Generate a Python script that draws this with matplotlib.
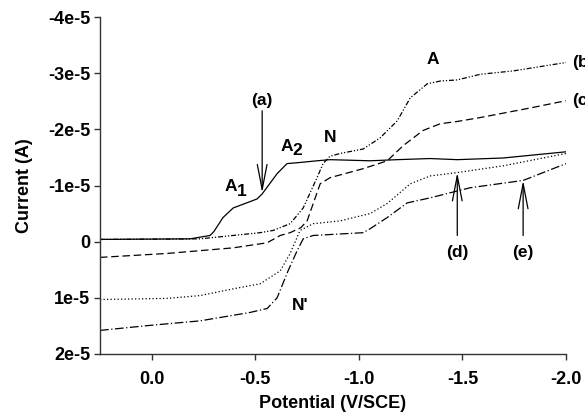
import numpy as np
import matplotlib
matplotlib.use("Agg")
import matplotlib.pyplot as plt
from matplotlib.patches import FancyArrowPatch

plt.rcParams['font.family'] = ['Liberation Sans', 'DejaVu Sans']
plt.rcParams['font.weight'] = 'bold'

# Curve (a) - solid
pot_a = [0.25, -0.185, -0.281, -0.30, -0.344, -0.393, -0.508, -0.533, -0.605, -0.653, -0.716,
         -0.798, -0.861, -1.054, -1.185, -1.344, -1.475, -1.697, -2.0]
cur_a = [-0.04, -0.05, -0.11, -0.18, -0.43, -0.60, -0.76, -0.85, -1.21, -1.39, -1.41,
         -1.44, -1.46, -1.44, -1.46, -1.48, -1.46, -1.49, -1.60]

# Curve (b) - dash dot dot
pot_b = [0.25, -0.233, -0.523, -0.586, -0.668, -0.731, -0.798, -0.827, -0.86, -0.909, -1.021,
         -1.103, -1.185, -1.248, -1.330, -1.393, -1.475, -1.586, -1.745, -2.0]
cur_b = [-0.04, -0.05, -0.16, -0.20, -0.32, -0.60, -1.14, -1.39, -1.52, -1.57, -1.65,
         -1.85, -2.15, -2.56, -2.81, -2.86, -2.88, -2.98, -3.04, -3.19]

# Curve (c) - dashed
pot_c = [0.25, -0.074, -0.393, -0.557, -0.620, -0.668, -0.72, -0.75, -0.813, -0.861, -1.021,
         -1.137, -1.214, -1.310, -1.393, -1.475, -1.586, -1.827, -2.0]
cur_c = [0.28, 0.21, 0.11, 0.02, -0.11, -0.16, -0.25, -0.37, -1.03, -1.14, -1.30,
         -1.44, -1.71, -1.98, -2.10, -2.14, -2.21, -2.38, -2.51]

# Curve (d) - dotted
pot_d = [0.25, -0.074, -0.233, -0.393, -0.523, -0.620, -0.668, -0.716, -0.779, -0.909,
         -1.054, -1.137, -1.248, -1.344, -1.475, -1.697, -2.0]
cur_d = [1.03, 1.01, 0.96, 0.84, 0.75, 0.52, 0.21, -0.20, -0.32, -0.37,
         -0.50, -0.68, -1.03, -1.17, -1.23, -1.35, -1.57]

# Curve (e) - dash dot
pot_e = [0.25, 0.008, -0.233, -0.475, -0.557, -0.605, -0.658, -0.702, -0.731, -0.779, -1.021,
         -1.054, -1.137, -1.233, -1.344, -1.537, -1.793, -2.0]
cur_e = [1.58, 1.49, 1.41, 1.26, 1.19, 1.00, 0.52, 0.16, -0.05, -0.11, -0.16,
         -0.23, -0.43, -0.69, -0.78, -0.96, -1.09, -1.39]

xticks = [0.0, -0.5, -1.0, -1.5, -2.0]
xticklabels = ['0.0', '-0.5', '-1.0', '-1.5', '-2.0']
yticks = [-4e-5, -3e-5, -2e-5, -1e-5, 0, 1e-5, 2e-5]
yticklabels = ['-4e-5', '-3e-5', '-2e-5', '-1e-5', '0', '1e-5', '2e-5']

S = 1e-5
fig = plt.figure(figsize=(5.85, 4.16), dpi=100)
ax = fig.add_axes([100/585, 1-354/416, (566-100)/585, (354-17)/416])

lw = 0.9
ax.plot(pot_a, np.array(cur_a)*S, color='black', lw=lw, linestyle='-')
ax.plot(pot_b, np.array(cur_b)*S, color='black', lw=lw, linestyle=(0, (4, 1.5, 1, 1.5, 1, 1.5)))
ax.plot(pot_c, np.array(cur_c)*S, color='black', lw=lw, linestyle=(0, (6, 3)))
ax.plot(pot_d, np.array(cur_d)*S, color='black', lw=lw, linestyle=(0, (1, 1.8)))
ax.plot(pot_e, np.array(cur_e)*S, color='black', lw=lw, linestyle=(0, (7, 2, 1, 2)))

ax.set_xlim(0.25, -2.0)
ax.set_ylim(2e-5, -4e-5)
ax.set_xticks(xticks)
ax.set_xticklabels(xticklabels)
ax.set_yticks(yticks)
ax.set_yticklabels(yticklabels)
for s in ['top', 'right']:
    ax.spines[s].set_visible(False)
for s in ['left', 'bottom']:
    ax.spines[s].set_linewidth(1.0)
    ax.spines[s].set_color('#333333')
ax.tick_params(axis='both', direction='out', length=4, width=1, color='#333333', labelsize=13)
ax.tick_params(axis='x', pad=8)
ax.tick_params(axis='y', pad=3)
for t in ax.get_xticklabels() + ax.get_yticklabels():
    t.set_fontweight('bold')

ax.set_xlabel('Potential (V/SCE)', fontsize=13, fontweight='bold', labelpad=5)
ax.set_ylabel('Current (A)', fontsize=13, fontweight='bold', labelpad=11)

fs = 12.5
def lab(x, y, s, ha='center', va='center'):
    ax.text(x, y*S, s, fontsize=fs, fontweight='bold', ha=ha, va=va, clip_on=False)

lab(-1.359, -3.24, 'A')
lab(-2.03, -3.19, '(b)', ha='left')
lab(-2.03, -2.51, '(c)', ha='left')
lab(-0.861, -1.85, 'N')
lab(-0.653, -1.70, 'A')
lab(-0.703, -1.62, '2')
lab(-0.383, -0.98, 'A')
lab(-0.433, -0.90, '1')
lab(-0.533, -2.51, '(a)')
lab(-1.475, 0.20, '(d)')
lab(-1.793, 0.20, '(e)')
lab(-0.716, 1.14, "N'")

def arrow(x, y0, y1):
    a = FancyArrowPatch((x, y0*S), (x, y1*S), arrowstyle='->,head_length=1.8,head_width=0.35',
                        mutation_scale=10, color='black', lw=0.9, shrinkA=0, shrinkB=0)
    ax.add_patch(a)

arrow(-0.533, -2.33, -0.87)
arrow(-1.475, -0.11, -1.23)
arrow(-1.793, -0.11, -1.09)

fig.savefig('out.png', dpi=100)
